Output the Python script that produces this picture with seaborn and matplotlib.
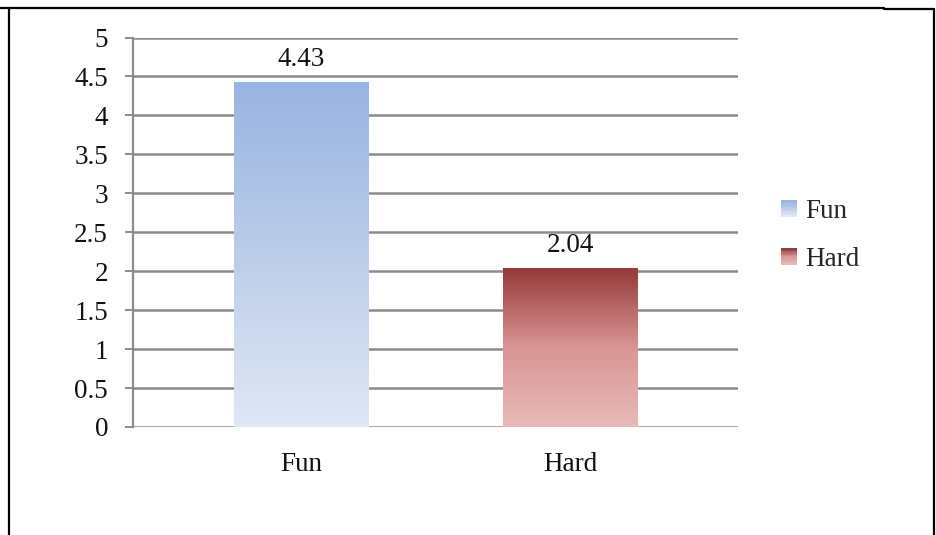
import numpy as np
import matplotlib
matplotlib.use("Agg")
import matplotlib.pyplot as plt
from matplotlib.colors import LinearSegmentedColormap
from matplotlib.lines import Line2D
from matplotlib.patches import Rectangle
from matplotlib.legend_handler import HandlerBase
import seaborn as sns

categories = ["Fun", "Hard"]
values = [4.43, 2.04]
# gradient stops (top -> bottom) for each series
grad_fun = ["#98b4e2", "#bccde9", "#e0e7f5"]
grad_hard = ["#953a39", "#d99594", "#e8bab9"]
gradients = {"Fun": grad_fun, "Hard": grad_hard}

sns.set_theme(style="white")
plt.rcParams["font.family"] = ["Liberation Serif", "DejaVu Serif"]
FS = 19.5

fig = plt.figure(figsize=(9.36, 5.35), dpi=100)
W, H = 936, 535
ax = fig.add_axes([133 / W, (H - 427) / H, (738 - 133) / W, (427 - 37.5) / H])

sns.barplot(x=categories, y=values, hue=categories, palette=["white", "white"],
            width=0.5, legend=False, ax=ax, linewidth=0)

for patch, cat in zip(ax.patches, categories):
    x0, y0 = patch.get_x(), patch.get_y()
    w, h = patch.get_width(), patch.get_height()
    cmap = LinearSegmentedColormap.from_list(cat, gradients[cat][::-1])
    g = np.linspace(0, 1, 256).reshape(-1, 1)
    im = ax.imshow(g, cmap=cmap, origin="lower", aspect="auto",
                   extent=[x0, x0 + w, y0, y0 + h], zorder=3)
    im.set_clip_path(patch)
    ax.annotate(f"{h:.2f}", (x0 + w / 2, h), xytext=(0, 7), textcoords="offset points",
                ha="center", va="bottom", fontsize=FS, color="#111111")

ax.set_xlim(-0.628, 1.626)
ax.set_ylim(0, 5)
ax.set_yticks(np.arange(0, 5.01, 0.5))
ax.set_yticklabels(["0", "0.5", "1", "1.5", "2", "2.5", "3", "3.5", "4", "4.5", "5"])
ax.yaxis.grid(True, color="#8c8c8c", lw=1.8)
ax.set_axisbelow(True)
for s in ["top", "right", "bottom"]:
    ax.spines[s].set_visible(False)
ax.spines["left"].set_color("#8c8c8c")
ax.spines["left"].set_linewidth(1.6)
ax.tick_params(axis="y", which="major", length=6, width=1.4, color="#8c8c8c",
               pad=12, labelsize=FS, left=True)
ax.tick_params(axis="x", length=0, pad=18, labelsize=FS)
ax.set_xlabel("")
ax.set_ylabel("")
for lab in ax.get_xticklabels() + ax.get_yticklabels():
    lab.set_color("#111111")


class GradHandler(HandlerBase):
    def __init__(self, stops):
        super().__init__()
        self.stops = stops

    def create_artists(self, legend, orig_handle, xdescent, ydescent, width, height, fontsize, trans):
        cmap = LinearSegmentedColormap.from_list("h", self.stops[::-1])
        n = 12
        side = height
        x0 = -xdescent + (width - side) / 2
        arts = []
        for i in range(n):
            r = Rectangle((x0, -ydescent + side * i / n), side, side / n + 0.3,
                          facecolor=cmap(i / (n - 1)), edgecolor="none", transform=trans)
            arts.append(r)
        return arts


h_fun = Rectangle((0, 0), 1, 1)
h_hard = Rectangle((0, 0), 1, 1)
fig.legend([h_fun, h_hard], categories,
           handler_map={h_fun: GradHandler(grad_fun), h_hard: GradHandler(grad_hard)},
           loc="center left", bbox_to_anchor=(757 / W, (H - 235.5) / H), frameon=False,
           fontsize=FS, handlelength=0.55, handleheight=0.55, handletextpad=0.35,
           labelspacing=0.85)

# outer frame
k = dict(color="black", lw=1.6, transform=None)
fig.add_artist(Line2D([8.5, 8.5], [0, H - 7.5], **k))
fig.add_artist(Line2D([0, 884], [H - 7.5, H - 7.5], **k))
fig.add_artist(Line2D([884, 933.5], [H - 8.5, H - 8.5], **k))
fig.add_artist(Line2D([933.5, 933.5], [0, H - 8.5], **k))

fig.savefig("out.png", dpi=100)
